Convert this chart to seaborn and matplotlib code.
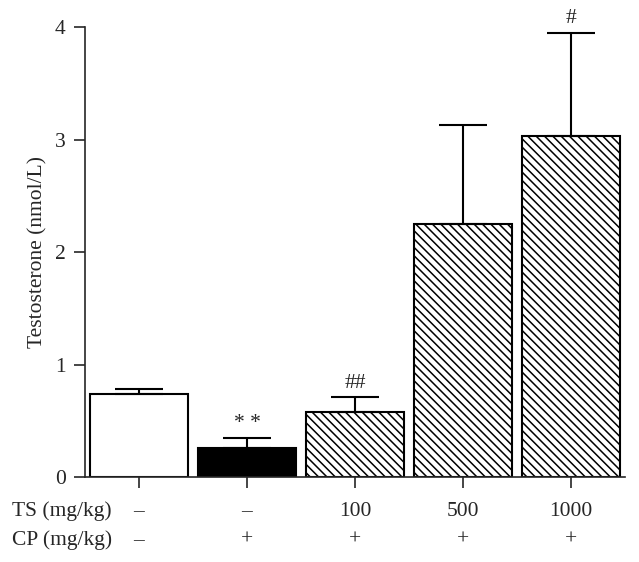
import matplotlib
matplotlib.use("Agg")
import matplotlib.pyplot as plt
import seaborn as sns
import pandas as pd

groups = ["Control", "CP", "TS100", "TS500", "TS1000"]
means = [0.74, 0.26, 0.58, 2.25, 3.03]
errors = [0.04, 0.09, 0.13, 0.88, 0.92]
ts_labels = ["\u2013", "\u2013", "100", "500", "1000"]
cp_labels = ["\u2013", "+", "+", "+", "+"]
marks = ["", "* *", "##", "", "#"]

sns.set_theme(style="ticks")
plt.rcParams['font.family'] = ['Liberation Serif', 'DejaVu Serif']
plt.rcParams['hatch.linewidth'] = 1.1

FS = 15.5

fig = plt.figure(figsize=(6.39, 5.62), dpi=100)
ax = fig.add_axes([0.133, 0.151, 0.845, 0.801])

df = pd.DataFrame({"group": groups, "mean": means})
sns.barplot(data=df, x="group", y="mean", ax=ax, width=0.9,
            color="white", edgecolor="black", linewidth=1.5, errorbar=None)

faces = ["white", "black", "white", "white", "white"]
hatches = [None, None, "\\\\\\\\", "\\\\\\\\", "\\\\\\\\"]
for p, fc, h in zip(ax.patches, faces, hatches):
    p.set_facecolor(fc)
    p.set_edgecolor("black")
    if h:
        p.set_hatch(h)

xs = list(range(len(groups)))
ax.errorbar(xs, means, yerr=[[0]*len(means), errors], fmt="none",
            ecolor="black", elinewidth=1.5, capsize=17, capthick=1.5, zorder=3)

for x, m, e, s in zip(xs, means, errors, marks):
    if s:
        ax.text(x, m + e + 0.04, s, ha="center", va="bottom", fontsize=FS,
                clip_on=False)

ax.set_xlim(-0.5, 4.5)
ax.set_ylim(0, 4)
ax.set_yticks([0, 1, 2, 3, 4])
ax.set_xticks(xs)
ax.set_xticklabels([""] * len(xs))
ax.tick_params(axis="both", direction="out", length=8, width=1.2, labelsize=FS)
ax.tick_params(axis="y", pad=6)
ax.set_xlabel("")
ax.set_ylabel("Testosterone (nmol/L)", fontsize=FS, labelpad=5)
for sp in ["top", "right"]:
    ax.spines[sp].set_visible(False)
for sp in ["left", "bottom"]:
    ax.spines[sp].set_linewidth(1.2)

trans = ax.get_xaxis_transform()
for x, t, c in zip(xs, ts_labels, cp_labels):
    ax.text(x, -0.076, t, transform=trans, ha="center", va="center", fontsize=FS)
    ax.text(x, -0.140, c, transform=trans, ha="center", va="center", fontsize=FS)
fig.text(0.018, 1 - 511/562, "TS (mg/kg)", ha="left", va="center", fontsize=FS)
fig.text(0.018, 1 - 540/562, "CP (mg/kg)", ha="left", va="center", fontsize=FS)

fig.savefig("out.png", dpi=100)
